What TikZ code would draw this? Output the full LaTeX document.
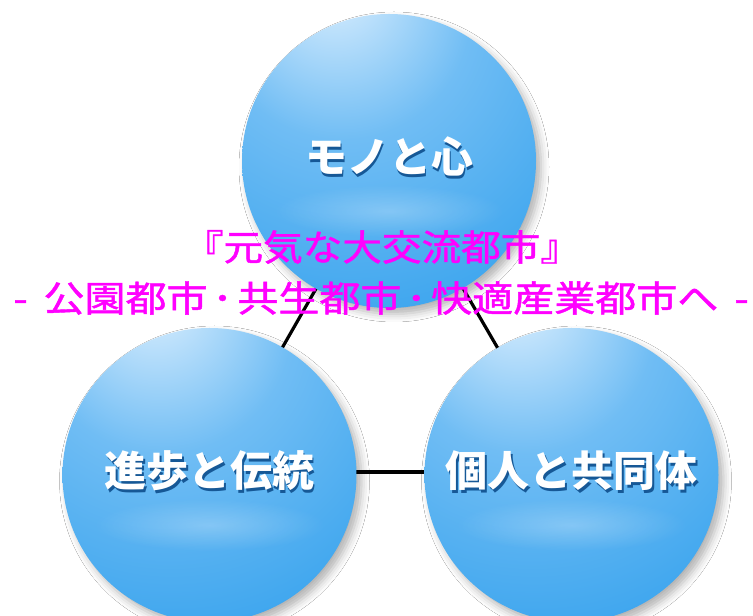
\documentclass[tikz,border=0pt]{standalone}
\usepackage{fontspec}
\newfontfamily\jp{Noto Sans CJK JP}
\newfontfamily\jpm[FakeBold=1.2]{Noto Sans CJK JP}
\usetikzlibrary{shadows.blur,fadings}
\definecolor{hl}{RGB}{242,249,255}
\definecolor{sa}{RGB}{196,228,252}
\definecolor{sb}{RGB}{112,189,244}
\definecolor{sc}{RGB}{60,165,238}
\definecolor{sd}{RGB}{36,153,235}
\definecolor{se}{RGB}{26,142,228}
\definecolor{txtsh}{RGB}{22,88,150}
\definecolor{mag}{RGB}{255,0,255}
\pgfdeclareradialshading{sph}{\pgfpoint{-10bp}{32bp}}{%
  color(0bp)=(hl); color(6bp)=(sa); color(22bp)=(sb); color(47bp)=(sc);
  color(75bp)=(sd); color(110bp)=(se)}
\tikzfading[name=softfade, inner color=transparent!0, outer color=transparent!100]
\newcommand\shtxt[1]{\rlap{\raisebox{-2.5pt}{\kern1.5pt\textcolor{txtsh}{#1}}}\textcolor{white}{#1}}
\tikzset{
  sphere/.style={circle, minimum size=294pt, inner sep=0pt, shading=sph,
    blur shadow={shadow xshift=5pt, shadow yshift=-6pt, shadow blur radius=8pt, shadow opacity=30}},
  link/.style={line width=3.2pt, black},
  band/.style={fill=white, opacity=0.25, path fading=softfade},
  label/.style={font=\jp\bfseries\fontsize{42}{42}\selectfont, inner sep=0pt},
  overlay/.style={text=mag, font=\jpm\fontsize{36}{36}\selectfont, inner sep=0pt}
}
\begin{document}
\begin{tikzpicture}[x=1pt,y=1pt]
\useasboundingbox (0,0) rectangle (753,616);
\fill[white] (0,0) rectangle (753,616);
\coordinate (ct) at (389,455);
\coordinate (cl) at (209.5,141);
\coordinate (cr) at (571.5,141);
\draw[link] (ct) -- (cl);
\draw[link] (ct) -- (cr);
\draw[link] ([yshift=3pt]cl) -- ([yshift=3pt]cr);
\node[sphere] (top) at (ct) {};
\node[sphere] (left) at (cl) {};
\node[sphere] (right) at (cr) {};
\foreach \n in {top,left,right}{
  \fill[band] ([yshift=-50pt]\n.center) ellipse [x radius=115pt, y radius=26pt];
}
\node[label] (ttop) at ([yshift=3pt]top.center) {\shtxt{モノと心}};
\node[label] (tleft) at ([yshift=3pt]left.center) {\shtxt{進歩と伝統}};
\node[label] (tright) at ([yshift=3pt]right.center) {\shtxt{個人と共同体}};
\node[overlay, xscale=1.1] (l1) at (382,369) {『元気な大交流都市』};
\node[overlay, xscale=1.14] (l2) at (381,318) {-\hspace{14pt}公園都市\hspace{4pt}･\hspace{4pt}共生都市\hspace{4pt}･\hspace{4pt}快適産業都市へ\hspace{14pt}-};
\end{tikzpicture}
\end{document}
